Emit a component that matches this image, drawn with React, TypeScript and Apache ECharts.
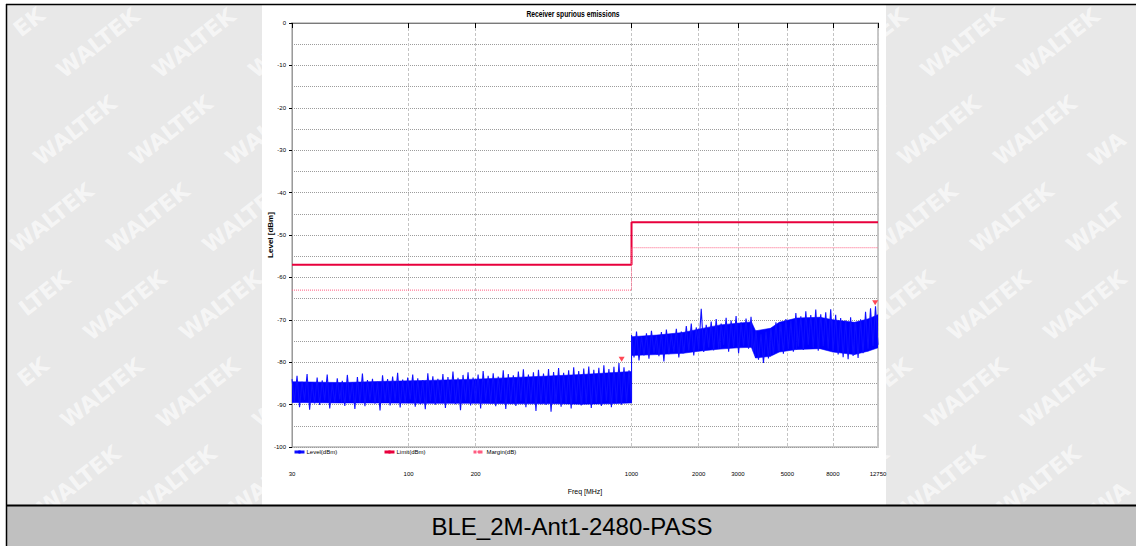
import { useEffect, useRef } from 'react';
import * as echarts from 'echarts';

// ---- texts ----
const chartTitle = 'Receiver spurious emissions';
const footerLabel = 'BLE_2M-Ant1-2480-PASS';
const watermarkText = 'WALTEK';
const xAxisName = 'Freq [MHz]';
const yAxisName = 'Level [dBm]';
const seriesNames = ['Level(dBm)', 'Limit(dBm)', 'Margin(dB)'];

// ---- axes ----
const xTickMHz = [30, 100, 200, 1000, 2000, 3000, 5000, 8000, 12750];
const xMinMHz = 30;
const xMaxMHz = 12750;
const yMin = -100;
const yMax = 0;

// ---- limit & margin (step lines) ----
const limitFreqMHz = [30, 1000, 1000, 12750];
const limitLevel = [-57, -57, -47, -47];
const marginLevel = [-63, -63, -53, -53];

// ---- measured trace: spike peaks / troughs read along the sweep ----
const lowBandStartMHz = 30;
const lowBandStopMHz = 1000;
const lowBandPeaks = [
  -84.0, -83.2, -84.6, -82.8, -84.9, -83.6, -84.3, -82.9, -85.0, -83.8,
  -84.4, -83.0, -84.8, -83.5, -82.7, -84.2, -83.9, -84.6, -83.1, -84.0,
  -83.4, -82.5, -84.1, -83.6, -82.9, -83.8, -84.2, -82.6, -83.3, -83.9,
  -82.8, -83.5, -82.2, -83.7, -83.0, -82.4, -83.6, -82.9, -82.1, -83.2,
  -82.6, -83.4, -81.9, -82.8, -83.1, -82.2, -81.7, -82.9, -82.4, -81.8,
  -82.7, -81.6, -82.3, -81.4, -82.5, -81.9, -81.2, -82.1, -81.5, -81.0,
  -81.8, -81.3, -80.7, -81.6, -81.1, -80.2, -81.2, -81.9,
];
const lowBandTroughs = [
  -89.4, -90.6, -88.9, -91.2, -89.7, -90.1, -89.0, -90.9, -89.5, -88.8,
  -90.3, -89.2, -91.0, -89.6, -90.4, -88.9, -89.8, -91.4, -89.3, -90.2,
  -89.1, -90.7, -89.5, -88.8, -90.5, -89.9, -91.1, -89.2, -90.0, -89.4,
  -90.8, -89.3, -89.9, -91.3, -89.0, -90.2, -89.6, -90.9, -88.9, -89.7,
  -90.4, -89.1, -91.0, -89.8, -90.3, -89.2, -90.6, -89.5, -91.5, -89.9,
  -90.1, -91.7, -89.4, -90.5, -89.8, -90.9, -89.3, -90.2, -89.6, -90.8,
  -89.5, -90.3, -89.1, -90.6, -89.7, -90.0, -89.4, -88.9,
];
const highBandStartMHz = 1000;
const highBandStopMHz = 12750;
const highBandPeaks = [
  -73.6, -72.8, -73.9, -73.2, -72.6, -73.7, -72.9, -72.3, -73.4, -72.1,
  -72.8, -71.5, -70.9, -71.8, -67.4, -71.2, -70.4, -69.8, -70.9, -69.5,
  -70.2, -69.1, -70.6, -69.7, -69.3, -72.6, -73.4, -72.8, -72.0, -70.6,
  -70.9, -69.8, -70.3, -68.4, -69.2, -68.0, -68.9, -67.6, -68.7, -68.2,
  -67.5, -68.8, -69.6, -70.2, -69.4, -70.5, -69.9, -68.1, -67.3, -66.8,
];
const highBandTroughs = [
  -78.9, -79.6, -78.4, -79.2, -77.8, -78.6, -79.8, -78.1, -77.6, -78.9,
  -77.9, -77.3, -78.4, -76.9, -77.6, -76.5, -77.2, -76.8, -75.9, -77.5,
  -76.4, -77.9, -76.1, -76.8, -77.6, -79.4, -80.2, -79.1, -78.3, -77.4,
  -78.0, -76.9, -77.5, -76.3, -77.1, -75.9, -76.6, -77.3, -76.2, -76.8,
  -77.4, -78.2, -78.8, -79.3, -78.5, -79.0, -77.9, -76.8, -76.2, -75.9,
];

// ---- dense core of the trace (solid part of the noise band) ----
const coreFreqMHz = [30, 50, 80, 120, 200, 300, 450, 600, 800, 1000, 1000, 1300, 1700, 2000, 2500, 3000, 3450, 3600, 4200, 4600, 5500, 7000, 8000, 10000, 11500, 12750];
const coreTop = [-84.6, -84.8, -84.5, -84.3, -84.0, -83.6, -83.2, -82.9, -82.5, -82.2, -74.0, -73.6, -73.0, -72.2, -71.2, -70.8, -70.5, -72.6, -72.0, -70.6, -69.6, -69.4, -70.0, -70.6, -69.8, -68.8];
const coreBottom = [-89.5, -89.6, -89.6, -89.7, -89.7, -89.8, -89.8, -89.9, -89.8, -89.6, -78.4, -78.2, -77.9, -77.4, -76.9, -76.6, -76.5, -79.0, -78.6, -77.6, -77.0, -76.8, -77.6, -78.2, -77.4, -76.6];

// ---- peak markers ----
const markerFreqMHz = [903, 12380];
const markerLevel = [-79.3, -66.0];

const lg = (f: number) => Math.log10(f);

function sweep(start: number, stop: number, peaks: number[], troughs: number[]) {
  const n = peaks.length + troughs.length;
  const out: number[][] = [];
  for (let k = 0; k < n; k++) {
    const t = k / (n - 1);
    const f = start * Math.pow(stop / start, t);
    const v = k % 2 === 0 ? peaks[k >> 1] : troughs[k >> 1];
    out.push([lg(f), v]);
  }
  return out;
}

const NARROW = "'Liberation Sans Narrow', 'Liberation Sans', Arial, sans-serif";
const SANS = "'Liberation Sans', Arial, sans-serif";

// watermark layout (decoration only)
const WM_FONT = 22;
const WM_CHAR_EM = [1.03, 0.774, 0.637, 0.682, 0.683, 0.775];
const WM_ANGLE = (38 * Math.PI) / 180;
const W = 1136;
const H = 546;

function watermarkElements() {
  const chars = watermarkText.split('');
  const widths = WM_CHAR_EM.map((e) => e * WM_FONT);
  const total = widths.reduce((a, b) => a + b, 0);
  const cos = Math.cos(WM_ANGLE);
  const sin = Math.sin(WM_ANGLE);
  const starts: number[] = [];
  let acc = -total / 2;
  for (let j = 0; j < chars.length; j++) {
    starts.push(acc);
    acc += widths[j];
  }
  const lineH = 27;
  const els: any[] = [];
  for (let r = 0; r < 6; r++) {
    for (let c = -2; c < 15; c++) {
      const cx = 98 + 96 * c - 23 * r;
      const cy = 43 + 87.5 * r;
      let best: any = null;
      for (let len = chars.length; len >= 2 && !best; len--) {
        for (let first = 0; first + len <= chars.length; first++) {
          const last = first + len - 1;
          const s = starts[first];
          const e = starts[last] + widths[last];
          const mid = (s + e) / 2;
          const L = e - s;
          const mx = cx + mid * cos;
          const my = cy - mid * sin;
          const hx = (L / 2) * cos + (lineH / 2) * sin;
          const hy = (L / 2) * sin + (lineH / 2) * cos;
          if (mx - hx >= 1 && mx + hx <= W - 1 && my - hy >= 1 && my + hy <= H - 1) {
            best = { text: chars.slice(first, last + 1).join(''), mx, my };
            break;
          }
        }
      }
      if (!best) continue;
      els.push({
        type: 'text',
        z: -9,
        silent: true,
        x: best.mx,
        y: best.my,
        rotation: WM_ANGLE,
        style: {
          text: best.text,
          fontSize: WM_FONT,
          fontWeight: 'bold',
          fontFamily: "'DejaVu Sans', sans-serif",
          fill: 'rgba(255,255,255,0.62)',
          align: 'center',
          verticalAlign: 'middle',
        },
      });
    }
  }
  return els;
}

function buildOption() {
  const levelData = [
    ...sweep(lowBandStartMHz, lowBandStopMHz, lowBandPeaks, lowBandTroughs),
    ...sweep(highBandStartMHz, highBandStopMHz, highBandPeaks, highBandTroughs),
  ];
  const coreData: number[][] = [];
  for (let i = 0; i < coreFreqMHz.length - 1; i++) {
    coreData.push([
      lg(coreFreqMHz[i]), coreTop[i], coreBottom[i],
      lg(coreFreqMHz[i + 1]), coreTop[i + 1], coreBottom[i + 1],
    ]);
  }
  const limitData = limitFreqMHz.map((f, i) => [lg(f), limitLevel[i]]);
  const marginData = limitFreqMHz.map((f, i) => [lg(f), marginLevel[i]]);
  const markerData = markerFreqMHz.map((f, i) => [lg(f), markerLevel[i]]);

  const legendBase = {
    top: 449,
    itemWidth: 10,
    itemHeight: 4,
    itemGap: 4,
    padding: 0,
    textStyle: { fontSize: 6, color: '#000', fontFamily: NARROW, padding: [0, 0, 0, -3] },
    lineStyle: { width: 3 },
  };

  const xMin = lg(xMinMHz);
  const xMax = lg(xMaxMHz);
  const xTicks = xTickMHz.map(lg);

  return {
    animation: false,
    backgroundColor: '#ffffff',
    grid: {
      left: 292,
      top: 23,
      width: 586,
      height: 424,
      show: true,
      borderColor: '#c8c8c8',
      borderWidth: 2,
      backgroundColor: 'transparent',
    },
    legend: [
      { ...legendBase, left: 293, data: [seriesNames[0]] },
      { ...legendBase, left: 383, data: [seriesNames[1]] },
      { ...legendBase, left: 472, data: [seriesNames[2]], itemWidth: 11 },
    ],
    xAxis: [
      {
        type: 'value',
        min: xMin,
        max: xMax,
        position: 'bottom',
        offset: 16,
        name: xAxisName,
        nameLocation: 'middle',
        nameGap: 25,
        nameTextStyle: { fontSize: 7, color: '#000', fontFamily: NARROW },
        axisLine: { show: true, lineStyle: { color: '#000', width: 1 } },
        axisTick: { show: true, customValues: xTicks, length: 5, lineStyle: { color: '#000' } },
        axisLabel: {
          customValues: xTicks,
          fontSize: 6,
          margin: 8,
          color: '#000',
          fontFamily: NARROW,
          formatter: (v: number) => String(Math.round(Math.pow(10, v))),
        },
        splitLine: { show: true, lineStyle: { color: '#c4c4c4', width: 1, type: [3, 2] } },
      },
      {
        type: 'value',
        min: xMin,
        max: xMax,
        position: 'bottom',
        offset: 0,
        axisLine: { show: true, lineStyle: { color: '#7a7a7a', width: 1 } },
        axisTick: { show: false },
        axisLabel: { show: false },
        splitLine: { show: false },
      },
    ],
    yAxis: [
      {
        type: 'value',
        min: yMin,
        max: yMax,
        interval: 5,
        position: 'left',
        axisLine: { show: true, lineStyle: { color: '#9a9a9a', width: 1 } },
        axisTick: { show: false },
        axisLabel: { show: false },
        splitLine: { show: true, lineStyle: { color: '#9c9c9c', width: 1, type: [1, 1] } },
      },
      {
        type: 'value',
        min: yMin,
        max: yMax,
        interval: 10,
        position: 'left',
        name: yAxisName,
        nameLocation: 'middle',
        nameGap: 18,
        nameMoveOverlap: false,
        nameTextStyle: { fontSize: 8, fontWeight: 'bold', color: '#000', fontFamily: SANS },
        axisLine: { show: false },
        axisTick: { show: true, length: 3, lineStyle: { color: '#000' } },
        axisLabel: { fontSize: 6, margin: 6, color: '#000', fontFamily: NARROW },
        splitLine: { show: false },
      },
    ],
    series: [
      {
        name: 'core',
        type: 'custom',
        data: coreData,
        encode: { x: [0, 3], y: [1, 2, 4, 5] },
        silent: true,
        clip: true,
        z: 3,
        renderItem: (_params: any, api: any) => {
          const a = api.coord([api.value(0), api.value(1)]);
          const b = api.coord([api.value(3), api.value(4)]);
          const c = api.coord([api.value(3), api.value(5)]);
          const d = api.coord([api.value(0), api.value(2)]);
          return {
            type: 'polygon',
            shape: { points: [a, b, c, d] },
            style: { fill: '#0000ff', stroke: '#0000ff', lineWidth: 0.6 },
          };
        },
      },
      {
        name: seriesNames[0],
        type: 'line',
        data: levelData,
        symbol: 'none',
        color: '#0000ff',
        lineStyle: { color: '#1010ff', width: 1.1 },
        z: 3,
      },
      {
        name: seriesNames[1],
        type: 'line',
        data: limitData,
        symbol: 'none',
        color: '#e8003c',
        lineStyle: { color: '#e8003c', width: 2 },
        z: 4,
      },
      {
        name: seriesNames[2],
        type: 'line',
        data: marginData,
        symbol: 'none',
        color: '#ff5c80',
        lineStyle: { color: '#ff5c80', width: 1, type: 'dotted' },
        z: 4,
      },
      {
        name: 'Peak',
        type: 'scatter',
        data: markerData,
        symbol: 'triangle',
        symbolRotate: 180,
        symbolSize: [6, 5],
        itemStyle: { color: '#ff1a2a' },
        z: 5,
      },
    ],
    graphic: {
      elements: [
        { type: 'rect', z: -10, silent: true, shape: { x: 7, y: 5, width: 1129, height: 500 }, style: { fill: '#e8e8e8' } },
        ...watermarkElements(),
        { type: 'rect', z: -8, silent: true, shape: { x: 262, y: 5, width: 624, height: 500 }, style: { fill: '#ffffff' } },
        { type: 'rect', z: 20, silent: true, shape: { x: 7, y: 506, width: 1129, height: 40 }, style: { fill: '#c0c0c0' } },
        { type: 'line', z: 21, silent: true, shape: { x1: 6, y1: 4.5, x2: 1136, y2: 4.5 }, style: { stroke: '#000', lineWidth: 1.5 } },
        { type: 'line', z: 21, silent: true, shape: { x1: 6.5, y1: 4, x2: 6.5, y2: 546 }, style: { stroke: '#000', lineWidth: 1.5 } },
        { type: 'line', z: 21, silent: true, shape: { x1: 6, y1: 505.5, x2: 1136, y2: 505.5 }, style: { stroke: '#000', lineWidth: 2 } },
        {
          type: 'text',
          z: 22,
          silent: true,
          x: 572,
          y: 526,
          style: { text: footerLabel, fontSize: 24, fill: '#000', align: 'center', verticalAlign: 'middle', fontFamily: SANS },
        },
        {
          type: 'text',
          z: 22,
          silent: true,
          x: 573,
          y: 14,
          scaleX: 0.75,
          style: { text: chartTitle, fontSize: 9, fontWeight: 'bold', fill: '#000', align: 'center', verticalAlign: 'middle', fontFamily: SANS },
        },
      ],
    },
  };
}

export default function App() {
  const ref = useRef<HTMLDivElement>(null);
  useEffect(() => {
    if (!ref.current) return;
    const chart = echarts.init(ref.current, null, { renderer: 'svg' });
    chart.setOption(buildOption() as any);
    return () => chart.dispose();
  }, []);
  return <div ref={ref} style={{ position: 'fixed', left: 0, top: 0, width: W, height: H }} />;
}
